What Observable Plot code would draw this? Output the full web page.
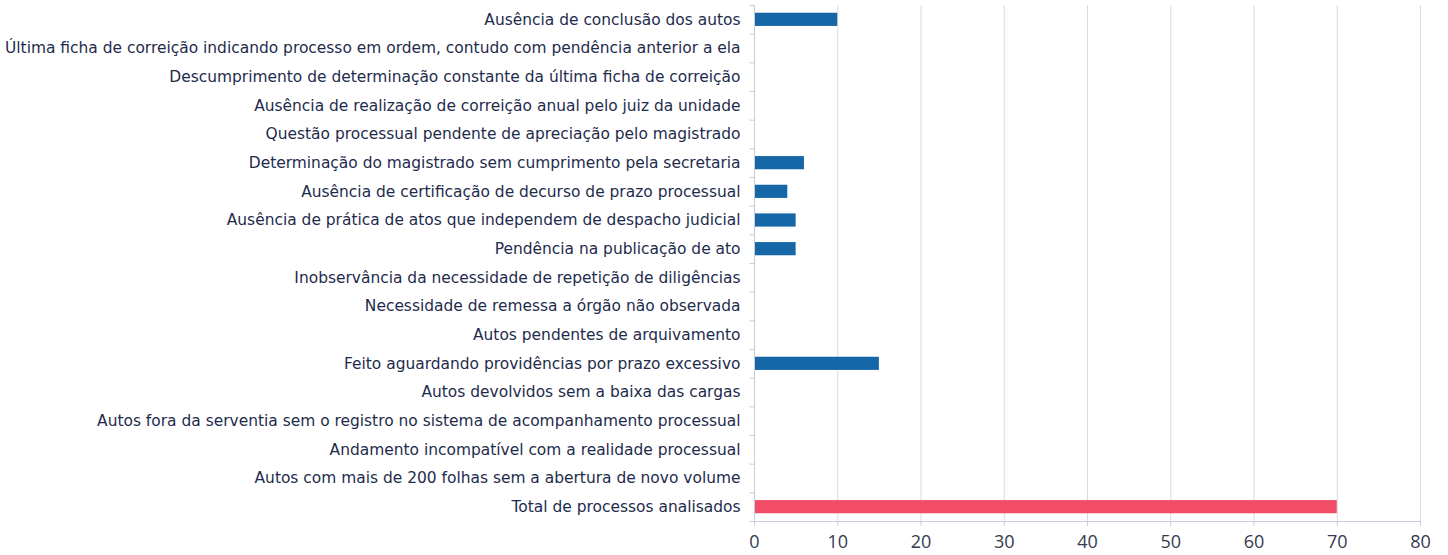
<!DOCTYPE html>
<html>
<head>
<meta charset="utf-8">
<script src="https://cdn.jsdelivr.net/npm/d3@7"></script>
<script src="https://cdn.jsdelivr.net/npm/@observablehq/plot@0.6"></script>
<style>
  html, body { margin: 0; padding: 0; background: #fff; }
  #chart { width: 1448px; height: 555px; }
</style>
</head>
<body>
<div id="chart"></div>
<script>
const categories = [
  "Ausência de conclusão dos autos",
  "Última ficha de correição indicando processo em ordem, contudo com pendência anterior a ela",
  "Descumprimento de determinação constante da última ficha de correição",
  "Ausência de realização de correição anual pelo juiz da unidade",
  "Questão processual pendente de apreciação pelo magistrado",
  "Determinação do magistrado sem cumprimento pela secretaria",
  "Ausência de certificação de decurso de prazo processual",
  "Ausência de prática de atos que independem de despacho judicial",
  "Pendência na publicação de ato",
  "Inobservância da necessidade de repetição de diligências",
  "Necessidade de remessa a órgão não observada",
  "Autos pendentes de arquivamento",
  "Feito aguardando providências por prazo excessivo",
  "Autos devolvidos sem a baixa das cargas",
  "Autos fora da serventia sem o registro no sistema de acompanhamento processual",
  "Andamento incompatível com a realidade processual",
  "Autos com mais de 200 folhas sem a abertura de novo volume",
  "Total de processos analisados"
];
const values = [10, 0, 0, 0, 0, 6, 4, 5, 5, 0, 0, 0, 15, 0, 0, 0, 0, 70];
const xTicks = [0, 10, 20, 30, 40, 50, 60, 70, 80];

const data = categories.map((c, i) => ({category: c, value: values[i], total: i === categories.length - 1}));

const W = 1448, H = 555, mt = 5, mb = 34, ml = 754, mr = 28;
const step = (H - mt - mb) / categories.length;

const chart = Plot.plot({
  width: W,
  height: H,
  marginTop: mt,
  marginBottom: mb,
  marginLeft: ml,
  marginRight: mr,
  style: {fontFamily: "'DejaVu Sans', sans-serif", background: "#fff"},
  x: {domain: [0, 80], ticks: xTicks, label: null},
  y: {domain: categories, label: null, paddingInner: 0.54, paddingOuter: 0.27, align: 0.5, round: false},
  marks: [
    Plot.gridX(xTicks, {stroke: "#d6d9e6", strokeOpacity: 1, strokeWidth: 1}),
    Plot.ruleY(categories, {y: d => d, x1: -0.55, x2: 0, dy: -step / 2, stroke: "#c8ccdc"}),
    Plot.ruleY([categories[categories.length - 1]], {y: d => d, x1: -0.55, x2: 0, dy: step / 2, stroke: "#c8ccdc"}),
    Plot.barX(data, {
      y: "category",
      x: "value",
      fill: d => d.total ? "#f24d66" : "#1667a8"
    }),
    Plot.ruleX([0], {stroke: "#c8ccdc"}),
    Plot.axisY({tickSize: 0, tickPadding: 14, fontSize: 15.45, fill: "#1d2b4c"}),
    Plot.axisX({ticks: xTicks, tickSize: 5, tickPadding: 9, fontSize: 18, fill: "#333b4f", stroke: "#c8ccdc", fontFamily: "'Open Sans', sans-serif"}),
    Plot.frame({anchor: "bottom", stroke: "#c8ccdc"})
  ]
});
document.getElementById("chart").appendChild(chart);
</script>
</body>
</html>
